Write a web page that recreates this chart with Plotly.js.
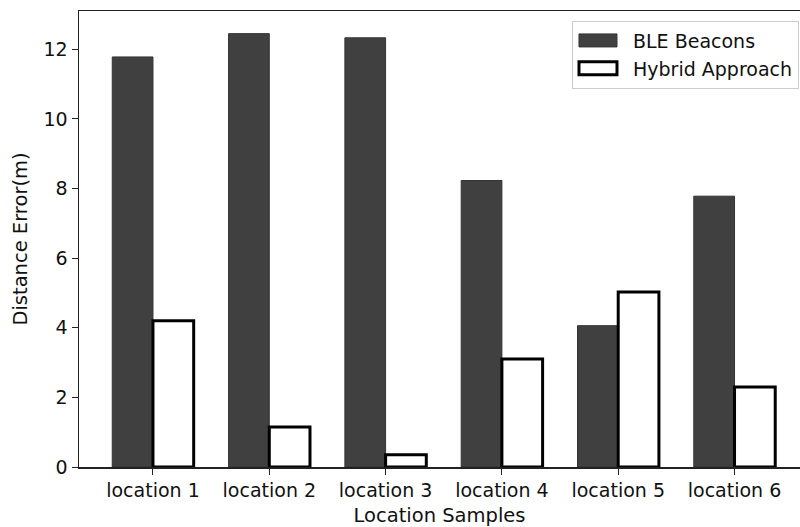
<!DOCTYPE html>
<html>
<head>
<meta charset="utf-8">
<script src="https://cdn.plot.ly/plotly-3.0.1.min.js"></script>
<style>html,body{margin:0;padding:0;background:#fff;}</style>
</head>
<body>
<div id="chart" style="width:800px;height:527px;"></div>
<script>
const categories = ["location 1", "location 2", "location 3", "location 4", "location 5", "location 6"];
const bleBeacons = [11.78, 12.45, 12.33, 8.23, 4.06, 7.78];
const hybridApproach = [4.2, 1.15, 0.35, 3.1, 5.03, 2.3];

const font = "DejaVu Sans, sans-serif";

const traces = [
  {
    type: "bar", name: "BLE Beacons", x: categories, y: bleBeacons,
    marker: {color: "#404040", line: {color: "#333333", width: 1}}
  },
  {
    type: "bar", name: "Hybrid Approach", x: categories, y: hybridApproach,
    marker: {color: "#ffffff", line: {color: "#000000", width: 3}}
  }
];

const layout = {
  width: 800, height: 527,
  margin: {l: 79, r: 0, t: 11, b: 60},
  paper_bgcolor: "#fff", plot_bgcolor: "#fff",
  barmode: "group", bargap: 0.3, bargroupgap: 0,
  font: {family: font, size: 19, color: "#111"},
  showlegend: true,
  legend: {
    x: 0.9986, xanchor: "right", y: 0.979, yanchor: "top",
    bordercolor: "#cccccc", borderwidth: 1, bgcolor: "#fff",
    font: {family: font, size: 19, color: "#111"},
    itemwidth: 50,
    tracegroupgap: 0
  },
  xaxis: {
    type: "category",
    range: [-0.636, 5.563],
    showline: true, linecolor: "#222", linewidth: 1.5, mirror: true,
    ticks: "outside", ticklen: 6, tickcolor: "#222",
    showgrid: false, zeroline: false,
    tickfont: {family: font, size: 19, color: "#111"},
    title: {text: "Location Samples", font: {family: font, size: 19.5, color: "#111"}, standoff: 14}
  },
  yaxis: {
    range: [0, 13.1], dtick: 2,
    showline: true, linecolor: "#222", linewidth: 1.5, mirror: false,
    ticks: "outside", ticklen: 6, tickcolor: "#222",
    showgrid: false, zeroline: false,
    tickfont: {family: font, size: 19, color: "#111"},
    title: {text: "Distance Error(m)", font: {family: font, size: 19.5, color: "#111"}, standoff: 10}
  }
};

Plotly.newPlot("chart", traces, layout, {displayModeBar: false, staticPlot: true}).then(function (gd) {
  // widen legend swatches to match the reference's wide rectangles
  gd.querySelectorAll(".legend .traces").forEach(function (g) {
    const txt = g.querySelector("text.legendtext");
    const tx = txt ? parseFloat(txt.getAttribute("x")) : 60;
    g.querySelectorAll(".legendpoints path").forEach(function (p) {
      p.setAttribute("d", "M19,6.5H-19V-6.5H19Z");
      p.setAttribute("transform", "translate(" + (tx - 35) + ",0)");
    });
  });
});
</script>
</body>
</html>
